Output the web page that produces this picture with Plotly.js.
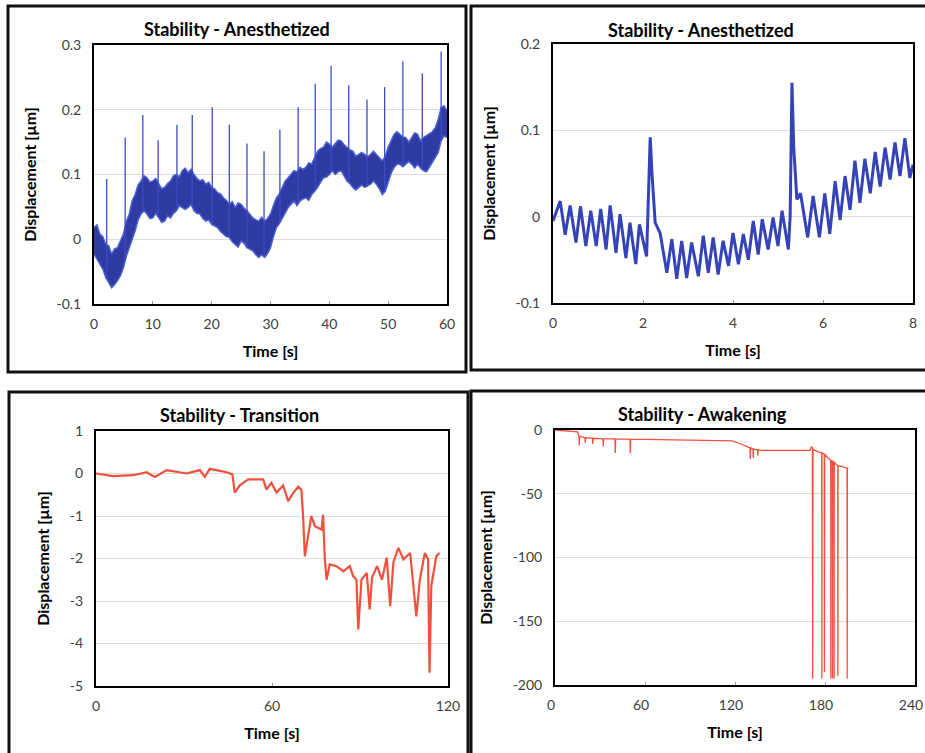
<!DOCTYPE html>
<html><head><meta charset="utf-8">
<script src="https://cdn.plot.ly/plotly-3.0.1.min.js"></script>
<style>html,body{margin:0;padding:0;background:#fff}#c{width:925px;height:753px}</style>
</head><body><div id="c"></div>
<script>
// ---------- DATA ----------
// Panel 1: Stability - Anesthetized (0-60 s), noise band envelope + spikes
const p1Time = [0,0.5,1,1.5,2,2.5,3,3.5,4,4.5,5,5.5,6,6.5,7,7.5,8,8.5,9,9.5,10,10.5,11,11.5,12,12.5,13,13.5,14,14.5,15,15.5,16,16.5,17,17.5,18,18.5,19,19.5,20,20.5,21,21.5,22,22.5,23,23.5,24,24.5,25,25.5,26,26.5,27,27.5,28,28.5,29,29.5,30,30.5,31,31.5,32,32.5,33,33.5,34,34.5,35,35.5,36,36.5,37,37.5,38,38.5,39,39.5,40,40.5,41,41.5,42,42.5,43,43.5,44,44.5,45,45.5,46,46.5,47,47.5,48,48.5,49,49.5,50,50.5,51,51.5,52,52.5,53,53.5,54,54.5,55,55.5,56,56.5,57,57.5,58,58.5,59,59.5,60];
const p1Upper = [0.018,0.022,0.008,0.004,-0.008,-0.010,-0.023,-0.015,-0.013,-0.002,0.008,0.028,0.039,0.060,0.069,0.084,0.090,0.098,0.095,0.088,0.090,0.094,0.085,0.078,0.080,0.086,0.090,0.098,0.100,0.096,0.106,0.110,0.103,0.108,0.100,0.094,0.090,0.092,0.085,0.088,0.080,0.078,0.072,0.070,0.064,0.060,0.054,0.058,0.049,0.056,0.054,0.048,0.044,0.038,0.033,0.030,0.028,0.034,0.028,0.032,0.039,0.052,0.064,0.070,0.080,0.090,0.095,0.100,0.106,0.104,0.111,0.108,0.111,0.118,0.116,0.126,0.136,0.140,0.142,0.150,0.147,0.142,0.147,0.153,0.152,0.146,0.142,0.138,0.136,0.128,0.131,0.134,0.131,0.127,0.131,0.136,0.131,0.126,0.121,0.128,0.142,0.152,0.162,0.166,0.162,0.158,0.157,0.150,0.157,0.164,0.162,0.152,0.157,0.160,0.162,0.166,0.172,0.185,0.203,0.206,0.198];
const p1Lower = [-0.023,-0.030,-0.039,-0.046,-0.059,-0.066,-0.075,-0.070,-0.064,-0.056,-0.044,-0.026,-0.013,0.000,0.013,0.030,0.039,0.044,0.039,0.032,0.033,0.040,0.033,0.026,0.028,0.036,0.033,0.040,0.044,0.052,0.049,0.046,0.049,0.054,0.044,0.040,0.039,0.032,0.028,0.030,0.023,0.020,0.018,0.012,0.008,0.004,0.003,-0.004,-0.008,-0.012,-0.003,-0.006,-0.013,-0.016,-0.018,-0.024,-0.028,-0.024,-0.028,-0.022,-0.013,0.004,0.018,0.024,0.033,0.040,0.049,0.054,0.059,0.052,0.059,0.062,0.064,0.060,0.069,0.074,0.080,0.088,0.095,0.096,0.100,0.106,0.100,0.104,0.106,0.098,0.090,0.086,0.080,0.076,0.080,0.084,0.080,0.082,0.085,0.090,0.085,0.078,0.069,0.074,0.090,0.102,0.111,0.116,0.116,0.112,0.116,0.120,0.116,0.110,0.116,0.110,0.106,0.104,0.111,0.118,0.126,0.134,0.152,0.160,0.157];
const p1SpikeTime = [2.16,5.3,8.3,10.9,14.1,16.7,20.1,23.0,26.0,28.9,31.6,34.7,37.6,40.3,43.3,46.4,49.4,52.5,55.8,59.0];
const p1SpikePeak = [0.093,0.157,0.192,0.153,0.177,0.192,0.204,0.177,0.148,0.136,0.169,0.204,0.240,0.268,0.238,0.216,0.235,0.275,0.256,0.290];

// Panel 2: Stability - Anesthetized (0-8 s)
const p2Time = [0,0.16,0.27,0.38,0.51,0.61,0.73,0.84,0.96,1.06,1.18,1.27,1.40,1.49,1.62,1.71,1.84,1.92,2.08,2.12,2.16,2.20,2.27,2.38,2.53,2.64,2.75,2.86,2.97,3.08,3.23,3.34,3.45,3.56,3.67,3.78,3.90,4.00,4.12,4.23,4.34,4.45,4.56,4.65,4.78,4.89,5.00,5.09,5.23,5.27,5.31,5.35,5.42,5.50,5.66,5.78,5.92,6.04,6.15,6.27,6.38,6.49,6.60,6.71,6.82,6.93,7.05,7.16,7.27,7.38,7.49,7.60,7.71,7.82,7.93,8.00];
const p2Disp = [-0.005,0.018,-0.021,0.013,-0.030,0.012,-0.034,0.007,-0.034,0.009,-0.038,0.013,-0.042,0.003,-0.048,-0.007,-0.055,-0.009,-0.046,0.030,0.092,0.050,-0.007,-0.019,-0.065,-0.026,-0.072,-0.028,-0.071,-0.030,-0.069,-0.022,-0.065,-0.024,-0.067,-0.028,-0.057,-0.019,-0.055,-0.020,-0.050,-0.005,-0.044,-0.003,-0.038,-0.001,-0.034,0.007,-0.038,0.000,0.155,0.080,0.020,0.027,-0.024,0.024,-0.024,0.027,-0.020,0.041,-0.004,0.047,0.008,0.065,0.016,0.067,0.027,0.075,0.035,0.080,0.043,0.086,0.047,0.091,0.045,0.060];

// Panel 3: Stability - Transition (0-120 s)
const p3Time = [0,5.9,12.7,17.3,18.4,20.1,24.1,28.6,30.9,35.4,37.1,38.8,44.5,46.5,47.3,49.0,51.9,57.0,58.1,59.8,61.5,63.8,65.5,67.3,69.0,70.0,70.6,71.2,72.3,73.4,74.6,76.9,77.4,78.0,78.6,79.7,82.0,84.3,86.5,87.7,88.8,89.4,90.5,92.3,93.3,94.1,95.8,97.5,99.1,100.3,101.4,103.1,104.8,107.1,109.2,110.4,112.1,113.2,113.7,114.3,116.0,117.1];
const p3Disp = [0,-0.06,-0.04,0.03,-0.02,-0.08,0.08,0.02,0.00,0.08,-0.08,0.11,0.03,-0.02,-0.45,-0.28,-0.14,-0.14,-0.38,-0.22,-0.45,-0.28,-0.65,-0.45,-0.31,-0.38,-1.00,-1.95,-1.47,-1.00,-1.24,-1.32,-0.97,-2.00,-2.50,-2.14,-2.18,-2.30,-2.18,-2.42,-2.50,-3.67,-2.50,-2.34,-3.20,-2.45,-2.18,-2.50,-1.98,-3.12,-2.08,-1.75,-2.02,-1.87,-3.36,-2.50,-1.87,-2.02,-4.69,-2.65,-1.95,-1.87];

// Panel 4: Stability - Awakening (0-240 s)
const p4Time = [0,5,10,15,16,16.2,16.4,20,20.2,20.4,25,25.2,25.4,32,32.2,32.4,40,40.2,40.4,50,50.2,50.4,70,90,110,118,122,125,128,130,130.2,130.4,132,132.2,132.4,135,135.2,135.4,138,150,165,170,171,171.6,171.8,172,175,177.8,177.9,178,179.5,179.6,179.8,182,183.8,183.9,184,184.9,185,185.1,186,186.1,186.2,188.5,188.6,188.7,192,194.7,194.8,194.9,195.5];
const p4Disp = [0,-0.5,-1.0,-1.5,-5,-12,-5,-6,-10,-6,-6.5,-11,-6.5,-7,-13,-7,-7,-18,-7,-7.2,-18,-7.2,-7.5,-7.8,-8,-8.5,-10,-11.5,-13,-14,-23,-14,-15,-22,-15,-15.5,-20,-15.5,-16,-16,-16,-16,-13,-14,-195,-15,-17,-18,-195,-18,-19,-190,-19,-22,-24,-195,-24,-24.5,-195,-24.5,-25,-195,-25.5,-28,-193,-28,-29,-30,-195,-30,-30.5];

// Tick labels
const p1YTicks = [-0.1,0,0.1,0.2,0.3];  const p1YText = ['-0.1','0','0.1','0.2','0.3'];
const p1XTicks = [0,10,20,30,40,50,60];
const p2YTicks = [-0.1,0,0.1,0.2];      const p2YText = ['-0.1','0','0.1','0.2'];
const p2XTicks = [0,2,4,6,8];
const p3YTicks = [-5,-4,-3,-2,-1,0,1];  const p3YText = ['-5','-4','-3','-2','-1','0','1'];
const p3XTicks = [0,60,120];
const p4YTicks = [-200,-150,-100,-50,0]; const p4YText = ['-200','-150','-100','-50','0'];
const p4XTicks = [0,60,120,180,240];

const titles = ['Stability - Anesthetized','Stability - Anesthetized','Stability - Transition','Stability - Awakening'];
const xTitle = 'Time [s]';
const yTitle = 'Displacement [µm]';

// ---------- LAYOUT HELPERS ----------
const W = 925, H = 753;
const PX = v => v / W, PY = v => 1 - v / H;
function lerp(xs, ys, t){
  for (let i = 1; i < xs.length; i++) if (t <= xs[i]) { const f = (t - xs[i-1]) / (xs[i] - xs[i-1]); return ys[i-1] + f * (ys[i] - ys[i-1]); }
  return ys[ys.length-1];
}
const BLUE = '#3a4cc6', RED = '#f2503c';
const sx = [], sy = [];
p1SpikeTime.forEach((t, i) => { sx.push(t, t, null); sy.push(lerp(p1Time, p1Lower, t), p1SpikePeak[i], null); });

const traces = [
  {x:p1Time, y:p1Lower, xaxis:'x', yaxis:'y', mode:'lines', line:{color:'#4a5fd2', width:1.5}, hoverinfo:'skip', showlegend:false},
  {x:p1Time, y:p1Upper, xaxis:'x', yaxis:'y', mode:'lines', line:{color:'#4a5fd2', width:1.5}, fill:'tonexty', fillcolor:'#2f3ba3', showlegend:false},
  {x:sx, y:sy, xaxis:'x', yaxis:'y', mode:'lines', line:{color:BLUE, width:1.3}, showlegend:false},
  {x:p2Time, y:p2Disp, xaxis:'x2', yaxis:'y2', mode:'lines', line:{color:'#3443b8', width:3}, showlegend:false},
  {x:p3Time, y:p3Disp, xaxis:'x3', yaxis:'y3', mode:'lines', line:{color:RED, width:2.2}, showlegend:false},
  {x:p4Time, y:p4Disp, xaxis:'x4', yaxis:'y4', mode:'lines', line:{color:RED, width:1.3}, showlegend:false}
];

const FONT = 'Lato, "Open Sans", sans-serif';
const tickFont = {family:FONT, size:14, color:'#404040'};
const axTitleFont = {family:FONT, size:16, color:'#000'};
function xa(dom, range, ticks, anchor, shift){
  return {domain:[PX(dom[0]),PX(dom[1])], range:range, anchor:anchor, tickvals:ticks, ticktext:ticks.map(String),
    showline:true, mirror:true, linecolor:'#000', linewidth:2, showgrid:false, zeroline:false,
    ticks:'inside', ticklen:3, tickcolor:'#999', tickfont:tickFont, ticklabelstandoff:6, ticklabelshift:shift||0, ticklabeloverflow:'allow', fixedrange:true,
    title:{text:'<b>'+xTitle+'</b>', font:axTitleFont, standoff:15}};
}
function ya(dom, range, ticks, text, anchor){
  return {domain:[PY(dom[1]),PY(dom[0])], range:range, anchor:anchor, tickvals:ticks, ticktext:text,
    showline:true, mirror:true, linecolor:'#000', linewidth:2, showgrid:true, gridcolor:'#dcdcdc', gridwidth:1, zeroline:false,
    ticks:'', tickfont:tickFont, ticklabelstandoff:8, ticklabeloverflow:'allow', fixedrange:true,
    title:{text:'<b>'+yTitle+'</b>', font:axTitleFont, standoff:16}};
}

const layout = {
  width:W, height:H, margin:{l:0,r:0,t:0,b:0}, paper_bgcolor:'#fff', plot_bgcolor:'#fff', showlegend:false,
  font:{family:FONT},
  xaxis:  xa([94,447],[0,60],p1XTicks,'y'),
  yaxis:  ya([45,304],[-0.1,0.3],p1YTicks,p1YText,'x'),
  xaxis2: xa([553,913],[0,8],p2XTicks,'y2'),
  yaxis2: ya([44,303],[-0.1,0.2],p2YTicks,p2YText,'x2'),
  xaxis3: xa([96,448],[0,120],p3XTicks,'y3'),
  yaxis3: ya([431,686],[-5,1],p3YTicks,p3YText,'x3'),
  xaxis4: xa([555,915],[0,240],p4XTicks,'y4',-4),
  yaxis4: ya([430,685],[-200,0],p4YTicks,p4YText,'x4'),
  annotations: [[237,29],[701,30],[239,415],[702,414]].map((p,i)=>({
    text:'<b>'+titles[i]+'</b>', x:PX(p[0]), y:PY(p[1]), xref:'paper', yref:'paper', xanchor:'center', yanchor:'middle',
    showarrow:false, font:{family:FONT, size:18, color:'#000'}})),
  shapes: [[8,6,466,372],[471,6,935,370],[9,392,468,765],[471,391,935,765]].map(r=>({
    type:'rect', xref:'paper', yref:'paper', x0:PX(r[0]), x1:PX(r[2]), y0:PY(r[3]), y1:PY(r[1]),
    line:{color:'#111', width:3}, fillcolor:'rgba(0,0,0,0)', layer:'below'}))
};
Plotly.newPlot('c', traces, layout, {staticPlot:true, displayModeBar:false});
</script></body></html>
